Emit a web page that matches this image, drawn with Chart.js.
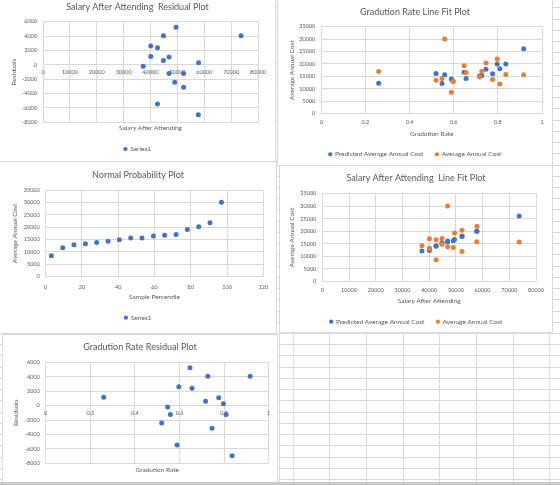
<!DOCTYPE html>
<html>
<head>
<meta charset="utf-8">
<script src="https://cdn.jsdelivr.net/npm/chart.js@4.4.0/dist/chart.umd.min.js"></script>
<style>
  html, body { margin: 0; padding: 0; width: 560px; height: 485px; overflow: hidden; background: #fff; }
  body { position: relative; }
  .gl { position: absolute; background: #dcdcdc; }
  .panel { position: absolute; background: #fff; border: 1px solid #d9d9d9; box-sizing: border-box; }
  .panel canvas { position: absolute; left: 0; top: 0; }
  #band { position: absolute; left: 0; top: 482px; width: 560px; height: 3px; background: #c9c9c9; z-index: 5; }
</style>
</head>
<body>
<div id="bg"></div>
<div class="panel" style="left:-1px;top:-1px;width:277px;height:163px"><canvas id="c1" width="275" height="161"></canvas></div>
<div class="panel" style="left:277px;top:-1px;width:276px;height:167px"><canvas id="c2" width="274" height="165"></canvas></div>
<div class="panel" style="left:-1px;top:161px;width:278px;height:173px"><canvas id="c3" width="276" height="171"></canvas></div>
<div class="panel" style="left:279px;top:165px;width:274px;height:168px"><canvas id="c4" width="272" height="166"></canvas></div>
<div class="panel" style="left:2px;top:334px;width:276px;height:170px"><canvas id="c5" width="274" height="168"></canvas></div>
<div id="band"></div>
<script>
// one row per school, in the same order in every array
const gradRate  = [0.26, 0.52, 0.547, 0.559, 0.589, 0.597, 0.647, 0.656, 0.717, 0.727, 0.746, 0.776, 0.797, 0.809, 0.836, 0.917];
const salary    = [40100, 49000, 37300, 46900, 42600, 40100, 49500, 42600, 44800, 44800, 52300, 46900, 57900, 52300, 57800, 73700];
const avgCost   = [17000, 13500, 14200, 30050, 8600, 13000, 19300, 16600, 14800, 17100, 20400, 13800, 22000, 11900, 15800, 15700];
const predicted = [12300, 16200, 12100, 15700, 14000, 13100, 16700, 14200, 15200, 15400, 17900, 16100, 20000, 18100, 20000, 26100];
const residuals = [1150, -2420, -200, -1220, -5450, 2620, 5230, 2390, 600, 4050, -3130, 1090, 270, -1220, -6960, 4050];

// normal probability plot
const percentile = [3.1, 9.4, 15.6, 21.9, 28.1, 34.4, 40.6, 46.9, 53.1, 59.4, 65.6, 71.9, 78.1, 84.4, 90.6, 96.9];
const sortedCost = [8500, 11700, 12900, 13300, 13800, 14300, 14900, 15600, 15600, 16400, 16700, 17000, 19100, 20200, 21800, 30100];

// spreadsheet grid behind the charts
const bg = document.getElementById('bg');
for (let k = 0; k < 44; k++) {
  const d = document.createElement('div');
  d.className = 'gl';
  d.style.cssText = 'left:0;top:' + Math.round(7.3 + 11.23 * k) + 'px;width:560px;height:1px';
  bg.appendChild(d);
}
[279, 293, 329, 366, 403, 439, 476, 513, 549].forEach(x => {
  const d = document.createElement('div');
  d.className = 'gl';
  d.style.cssText = 'left:' + x + 'px;top:0;width:1px;height:485px';
  bg.appendChild(d);
});

Chart.defaults.font.family = 'Lato, "Open Sans", sans-serif';
Chart.defaults.color = '#595959';
Chart.defaults.animation = false;

const blue = '#4472C4', orange = '#ED7D31', gridCol = '#d9d9d9';
const TITLE = 9, AXT = 6.5, TICK = 5.5, LEG = 6.5, LEGPAD = 12;

const pts = (xs, ys) => xs.map((x, i) => ({ x: x, y: ys[i] }));
const plain = v => String(Math.round(v * 100) / 100);

function series(label, xs, ys, color, order) {
  return { label: label, data: pts(xs, ys), backgroundColor: color, borderColor: color,
           pointRadius: 2.5, pointHoverRadius: 2.5, borderWidth: 0, order: order,
           xAxisID: 'x', yAxisID: 'y' };
}

// g = where things sit on the canvas, o = what is drawn
function build(id, g, o) {
  const cv = document.getElementById(id);
  const w = cv.width, h = cv.height;
  const tl = TITLE * 1.2, al = AXT * 1.2, kl = TICK * 1.2;
  const legTop = g.lc - LEGPAD - LEG / 2;
  const legH = h - legTop;
  const xH = legTop - g.B;
  const xTitle = { display: true, text: o.xtitle, font: { size: AXT }, padding: { top: 0, bottom: legTop - g.xt - al / 2 } };

  const scales = {
    y: {
      position: 'left', min: o.ymin, max: o.ymax,
      ticks: { stepSize: o.ystep, padding: 6, font: { size: TICK }, callback: plain },
      grid: { color: gridCol, drawTicks: false }, border: { display: false },
      title: { display: true, text: o.ytitle, font: { size: AXT }, padding: { top: g.yt - al / 2, bottom: 0 } },
      afterFit: s => { s.width = g.L; }
    },
    yr: {
      position: 'right', display: true, min: 0, max: 1,
      ticks: { display: false }, grid: { display: false }, border: { display: false },
      afterFit: s => { s.width = w - g.R; }
    }
  };
  if (o.residual) {
    scales.x = {
      position: { y: 0 }, min: o.xmin, max: o.xmax,
      ticks: { stepSize: o.xstep, padding: g.zg - kl / 2, font: { size: TICK }, callback: plain, maxRotation: 0, autoSkip: false },
      grid: { color: gridCol, drawTicks: false }, border: { display: false }
    };
    scales.x2 = {
      position: 'bottom', min: o.xmin, max: o.xmax,
      ticks: { display: false }, grid: { display: false }, border: { display: false },
      title: xTitle,
      afterFit: s => { s.height = xH; }
    };
  } else {
    scales.x = {
      position: 'bottom', min: o.xmin, max: o.xmax,
      ticks: { stepSize: o.xstep, padding: g.xl - g.B - kl / 2, font: { size: TICK }, callback: plain, maxRotation: 0, autoSkip: false },
      grid: { color: gridCol, drawTicks: false }, border: { display: false },
      title: xTitle,
      afterFit: s => { s.height = xH; }
    };
  }

  new Chart(cv, {
    type: 'scatter',
    data: { datasets: o.datasets },
    options: {
      responsive: false,
      devicePixelRatio: 1,
      layout: { padding: { left: 0, right: 0, top: 0, bottom: Math.max(0, legH - (LEG + LEGPAD + 10)) } },
      scales: scales,
      plugins: {
        tooltip: { enabled: false },
        title: {
          display: true, text: o.title, color: '#595959',
          font: { size: TITLE, weight: 'normal' },
          padding: { top: g.tc - tl / 2, bottom: g.T - g.tc - tl / 2 }
        },
        legend: {
          display: true, position: 'bottom', maxHeight: legH,
          labels: {
            usePointStyle: true, pointStyle: 'circle', boxWidth: 3, boxHeight: 3,
            padding: LEGPAD, font: { size: LEG }, color: '#595959',
            sort: (a, b) => a.datasetIndex - b.datasetIndex
          }
        }
      }
    }
  });
}

build('c1', { L: 43, R: 258, T: 21.7, B: 122.3, tc: 7.5, yt: 14, xt: 128, lc: 149, zg: 7.2 }, {
  title: 'Salary After Attending  Residual Plot', xtitle: 'Salary After Attending', ytitle: 'Residuals',
  residual: true, xmin: 0, xmax: 80000, xstep: 10000, ymin: -8000, ymax: 6000, ystep: 2000,
  datasets: [series('Series1', salary, residuals, blue, 0)]
});

build('c2', { L: 43.3, R: 264, T: 26.7, B: 113.7, tc: 12, yt: 13.7, xt: 134, lc: 154.3, xl: 122.7 }, {
  title: 'Gradution Rate Line Fit Plot', xtitle: 'Gradution Rate', ytitle: 'Average Annual Cost',
  xmin: 0, xmax: 1, xstep: 0.2, ymin: 0, ymax: 35000, ystep: 5000,
  datasets: [series('Predicted Average Annual Cost', gradRate, predicted, blue, 1),
             series('Average Annual Cost', gradRate, avgCost, orange, 0)]
});

build('c3', { L: 45.7, R: 263.3, T: 28, B: 114.7, tc: 13, yt: 15, xt: 135, lc: 155.7, xl: 125 }, {
  title: 'Normal Probability Plot', xtitle: 'Sample Percentile', ytitle: 'Average Annual Cost',
  xmin: 0, xmax: 120, xstep: 20, ymin: 0, ymax: 35000, ystep: 5000,
  datasets: [series('Series1', percentile, sortedCost, blue, 0)]
});

build('c4', { L: 42.3, R: 256, T: 27.7, B: 115.3, tc: 12.3, yt: 11.7, xt: 134.7, lc: 155.7, xl: 124 }, {
  title: 'Salary After Attending  Line Fit Plot', xtitle: 'Salary After Attending', ytitle: 'Average Annual Cost',
  xmin: 0, xmax: 80000, xstep: 10000, ymin: 0, ymax: 35000, ystep: 5000,
  datasets: [series('Predicted Average Annual Cost', salary, predicted, blue, 1),
             series('Average Annual Cost', salary, avgCost, orange, 0)]
});

build('c5', { L: 42.7, R: 265.7, T: 27.3, B: 128.3, tc: 11.7, yt: 13, xt: 135, lc: 151, zg: 7.6 }, {
  title: 'Gradution Rate Residual Plot', xtitle: 'Gradution Rate', ytitle: 'Residuals',
  residual: true, xmin: 0, xmax: 1, xstep: 0.2, ymin: -8000, ymax: 6000, ystep: 2000,
  datasets: [series('Series1', gradRate, residuals, blue, 0)]
});
</script>
</body>
</html>
